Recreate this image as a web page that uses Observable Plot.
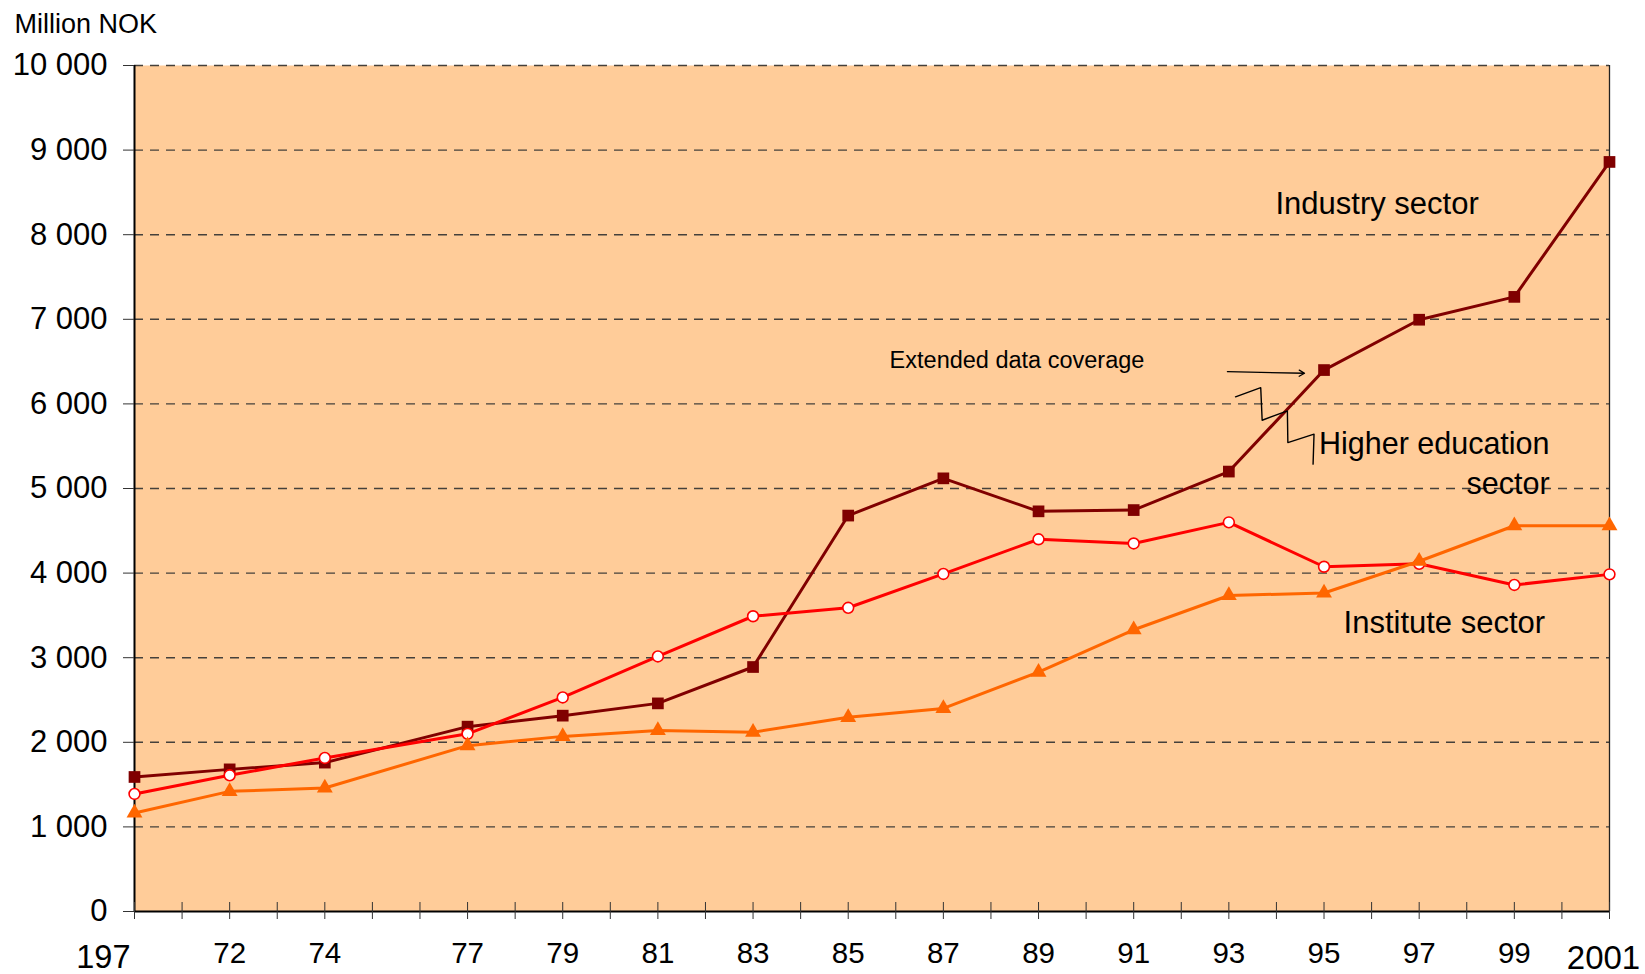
<!DOCTYPE html>
<html>
<head>
<meta charset="utf-8">
<script src="https://cdn.jsdelivr.net/npm/d3@7"></script>
<script src="https://cdn.jsdelivr.net/npm/@observablehq/plot@0.6"></script>
<style>
  html, body { margin: 0; padding: 0; background: white; }
  #chart svg { display: block; }
</style>
</head>
<body>
<div id="chart"></div>
<script>
// ---- data ----
const years     = [1970, 1972, 1974, 1977, 1979, 1981, 1983, 1985, 1987, 1989, 1991, 1993, 1995, 1997, 1999, 2001];
const industry  = [1590, 1680, 1760, 2185, 2315, 2460, 2890, 4680, 5120, 4730, 4745, 5200, 6400, 6995, 7265, 8860];
const higherEd  = [1390, 1610, 1815, 2100, 2530, 3015, 3490, 3590, 3990, 4400, 4350, 4600, 4075, 4110, 3860, 3985];
const institute = [1165, 1420, 1460, 1960, 2070, 2140, 2120, 2295, 2400, 2830, 3330, 3735, 3765, 4140, 4560, 4560];

const yTicks = [0, 1000, 2000, 3000, 4000, 5000, 6000, 7000, 8000, 9000, 10000];
const xTickYears = d3.range(1970, 2002);
const midLabelYears = [1972, 1974, 1977, 1979, 1981, 1983, 1985, 1987, 1989, 1991, 1993, 1995, 1997, 1999];
const midLabels = ["72", "74", "77", "79", "81", "83", "85", "87", "89", "91", "93", "95", "97", "99"];
const firstLabel = "197";
const lastLabel = "2001";

// annotation break symbol (in data units)
const breakX = [1993.14, 1993.67, 1993.70, 1994.23, 1994.24, 1994.79, 1994.77];
const breakY = [6083, 6192, 5807, 5917, 5543, 5642, 5288];

// ---- tables ----
const rows = years.map((year, i) => ({year, industry: industry[i], higherEd: higherEd[i], institute: institute[i]}));
const midRows = midLabelYears.map((year, i) => ({year, label: midLabels[i]}));
const breakRows = breakX.map((x, i) => ({x, y: breakY[i]}));

const fmt = d => d3.format(",")(d).replace(/,/g, " ");

const chart = Plot.plot({
  width: 1645,
  height: 974,
  marginLeft: 134,
  marginRight: 36,
  marginTop: 65,
  marginBottom: 63,
  style: {fontFamily: "'Liberation Sans', Arial, Helvetica, sans-serif", background: "white", color: "black", overflow: "visible"},
  x: {domain: [1970, 2001]},
  y: {domain: [0, 10000]},
  marks: [
    Plot.frame({fill: "#FFCC99", stroke: null}),
    Plot.gridY(yTicks.filter(d => d > 0), {stroke: "#45403b", strokeOpacity: 1, strokeWidth: 1.4, strokeDasharray: "9,7"}),
    Plot.ruleY([0], {stroke: "black", strokeWidth: 2}),
    Plot.ruleX([1970], {stroke: "black", strokeWidth: 2}),
    Plot.ruleX([2001], {stroke: "#222", strokeWidth: 1.3}),
    Plot.axisY({ticks: yTicks, tickSize: 11, tickPadding: 16, tickFormat: fmt, fontSize: 31, stroke: "#333"}),
    Plot.axisX({ticks: xTickYears, tickSize: 17, dy: -9, tickFormat: () => "", stroke: "#333"}),
    // x labels
    Plot.text(midRows, {x: "year", text: "label", frameAnchor: "bottom", dy: 51, lineAnchor: "bottom", fontSize: 29.5}),
    Plot.text([firstLabel], {x: years[0], text: d => d, frameAnchor: "bottom", dy: 56, dx: -4, lineAnchor: "bottom", textAnchor: "end", fontSize: 32.5}),
    Plot.text([lastLabel], {x: years[years.length - 1], text: d => d, frameAnchor: "bottom", dy: 57, dx: -6, lineAnchor: "bottom", fontSize: 33}),
    // y title
    Plot.text(["Million NOK"], {frameAnchor: "top-left", dx: -120, dy: -33, textAnchor: "start", lineAnchor: "bottom", fontSize: 27}),
    // series
    Plot.line(rows, {x: "year", y: "industry", stroke: "#800000", strokeWidth: 3}),
    Plot.dot(rows, {x: "year", y: "industry", symbol: "square", r: 6.6, fill: "#800000", stroke: null}),
    Plot.line(rows, {x: "year", y: "higherEd", stroke: "#FF0000", strokeWidth: 3}),
    Plot.dot(rows, {x: "year", y: "higherEd", symbol: "circle", r: 5.4, fill: "white", stroke: "#FF0000", strokeWidth: 1.6}),
    Plot.line(rows, {x: "year", y: "institute", stroke: "#FF6600", strokeWidth: 3}),
    Plot.dot(rows, {x: "year", y: "institute", symbol: "triangle", r: 5.9, fill: "#FF6600", stroke: null}),
    // annotations
    Plot.line(breakRows, {x: "x", y: "y", stroke: "black", strokeWidth: 1.4}),
    Plot.arrow([0], {x1: 1992.97, y1: 6381, x2: 1994.59, y2: 6362, stroke: "black", strokeWidth: 1.3, headLength: 7}),
    Plot.text(["Extended data coverage"], {x: 1985.87, y: 6425, textAnchor: "start", lineAnchor: "bottom", fontSize: 23.5}),
    Plot.text(["Industry sector"], {x: 1993.98, y: 8244, textAnchor: "start", lineAnchor: "bottom", fontSize: 31}),
    Plot.text(["Higher education\nsector"], {x: 1999.74, y: 4937, textAnchor: "end", lineAnchor: "bottom", lineHeight: 1.32, fontSize: 30.5}),
    Plot.text(["Institute sector"], {x: 1995.41, y: 3295, textAnchor: "start", lineAnchor: "bottom", fontSize: 31})
  ]
});
document.getElementById("chart").append(chart);
</script>
</body>
</html>
